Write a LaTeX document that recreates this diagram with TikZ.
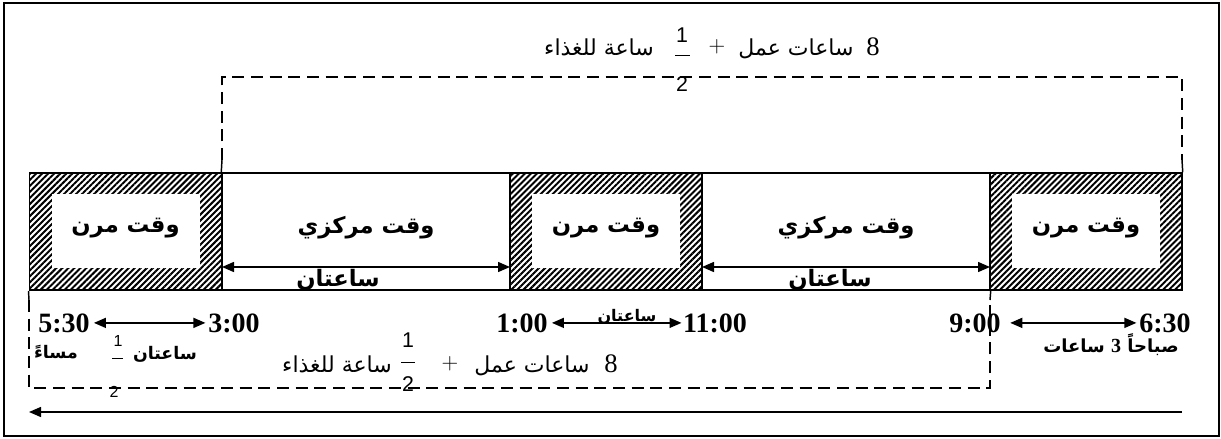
\documentclass[tikz,border=0pt]{standalone}
\usepackage{fontspec}
\usetikzlibrary{arrows.meta,patterns.meta}
\TeXXeTstate=1
\newfontfamily\arb[Script=Arabic]{DejaVu Sans}
\newfontfamily\tms{Liberation Serif}
\newfontfamily\ars{Liberation Sans}
\begin{document}
\begin{tikzpicture}[x=0.75pt,y=-0.75pt,
  frame/.style={line width=1.5pt},
  flexbox/.style={draw,line width=1.1pt,minimum width=144pt,minimum height=87.75pt,inner sep=0pt,
    pattern={Lines[angle=45,distance=3.2pt,line width=1.5pt]}},
  corebox/.style={draw,line width=1.1pt,minimum width=216pt,minimum height=87.75pt,inner sep=0pt},
  innerbox/.style={fill=white,minimum width=111pt,minimum height=55.5pt,inner sep=0pt},
  lbl/.style={font=\arb\bfseries\fontsize{17}{20}\selectfont,inner sep=0pt},
  slbl/.style={font=\arb\bfseries\fontsize{13}{15}\selectfont,inner sep=0pt},
  rlbl/.style={font=\arb\fontsize{16.5}{19}\selectfont,inner sep=0pt,anchor=base},
  tlbl/.style={font=\tms\bfseries\fontsize{21}{24}\selectfont,inner sep=0pt,anchor=base},
  frc/.style={font=\ars\fontsize{16}{18}\selectfont,inner sep=0pt},
  sfrc/.style={font=\ars\fontsize{12}{14}\selectfont,inner sep=0pt},
  dsh/.style={dash pattern=on 9pt off 5pt,line width=1.2pt},
  arr/.style={line width=1.1pt,-{Triangle[length=9pt,width=7.5pt]}},
  darr/.style={line width=1.1pt,{Triangle[length=9pt,width=7.5pt]}-{Triangle[length=9pt,width=7.5pt]}}
]
\useasboundingbox (0,0) rectangle (1221,439);
\draw[frame] (4,3) rectangle (1219,436);

% boxes
\node[flexbox] (f1) at (125.5,231.5) {};
\node[corebox] (c1) at (366,231.5) {};
\node[flexbox] (f2) at (606,231.5) {};
\node[corebox] (c2) at (846,231.5) {};
\node[flexbox] (f3) at (1086,231.5) {};
\node[innerbox] (i1) at (125.5,231) {};
\node[innerbox] (i2) at (606,231) {};
\node[innerbox] (i3) at (1086,231) {};
\node[lbl] (l1) at (125.5,228) {\beginR وقت مرن\endR};
\node[lbl] (l2) at (606,228) {\beginR وقت مرن\endR};
\node[lbl] (l3) at (1086,228) {\beginR وقت مرن\endR};
\node[lbl] (k1) at (366,228) {\beginR وقت مركزي\endR};
\node[lbl] (k2) at (846,228) {\beginR وقت مركزي\endR};

% core arrows
\coordinate (c1a) at (222,267);
\coordinate (c1b) at (510,267);
\coordinate (c2a) at (702,267);
\coordinate (c2b) at (990,267);
\draw[darr] (c1a) -- (c1b);
\draw[darr] (c2a) -- (c2b);
\node[lbl] (s1) at (338,280) {\beginR ساعتان\endR};
\node[lbl] (s2) at (830,280) {\beginR ساعتان\endR};

% top bracket
\coordinate (ta) at (222,160);
\coordinate (tb) at (222,77);
\coordinate (tc) at (1182,77);
\coordinate (td) at (1182,160);
\draw[line width=1.1pt] (c1.north west) -- (ta);
\draw[line width=1.1pt] (f3.north east) -- (td);
\draw[dsh] (ta) -- (tb) -- (tc) -- (td);

% top label
\node[rlbl] (tl1) at (599,55) {\beginR ساعة للغذاء\endR};
\node[frc] (tn) at (682,35) {1};
\node[frc] (tdn) at (682,84) {2};
\coordinate (tf1) at (675,55);
\coordinate (tf2) at (690,55);
\draw[line width=0.7pt] (tf1) -- (tf2);
\node[inner sep=0pt,font=\fontsize{16}{18}\selectfont] (tp) at (717,47) {$+$};
\node[rlbl] (tl2) at (796,55) {\beginR ساعات عمل\endR};
\node[inner sep=0pt,anchor=base,font=\tms\fontsize{20}{22}\selectfont] (t8) at (873,55) {8};

% bottom bracket
\coordinate (ba) at (29,300);
\coordinate (bb) at (29,388);
\coordinate (bc) at (990,388);
\coordinate (bd) at (990,300);
\draw[line width=1.1pt] (f1.south west) -- (ba);
\draw[line width=1.1pt] (c2.south east) -- (bd);
\draw[dsh] (ba) -- (bb) -- (bc) -- (bd);

% times
\node[tlbl] (h530) at (64,332) {5:30};
\node[tlbl] (h300) at (234,332) {3:00};
\node[tlbl] (h100) at (522,332) {1:00};
\node[tlbl] (h1100) at (715,332) {11:00};
\node[tlbl] (h900) at (975,332) {9:00};
\node[tlbl] (h630) at (1165,332) {6:30};
\draw[darr] ([xshift=3pt]h530.east) -- ([xshift=-2pt]h300.west);
\draw[darr] ([xshift=3pt]h100.east) -- ([xshift=-1pt]h1100.west);
\draw[darr] ([xshift=7pt]h900.east) -- ([xshift=-2pt]h630.west);
\node[font=\arb\bfseries\fontsize{12}{14}\selectfont,inner sep=0pt] (s3) at (627,317) {\beginR ساعتان\endR};

% bottom texts
\node[slbl] (msa) at (56,352) {\beginR مساءً\endR};
\node[sfrc] (bn1) at (118,341) {1};
\node[sfrc] (bd1) at (114,392) {2};
\coordinate (bf1) at (112,358);
\coordinate (bf2) at (123,358);
\draw[line width=0.6pt] (bf1) -- (bf2);
\node[slbl] (s4) at (165,354) {\beginR ساعتان\endR};
\node[font=\arb\bfseries\fontsize{13.5}{16}\selectfont,inner sep=0pt] (sbh) at (1111,345) {\beginR صباحاً {\tms\bfseries\fontsize{15}{17}\selectfont 3} ساعات\endR};

\node[rlbl] (bl1) at (337,372) {\beginR ساعة للغذاء\endR};
\node[frc] (bn) at (408,340) {1};
\node[frc] (bdn) at (408,384) {2};
\coordinate (bg1) at (401,362);
\coordinate (bg2) at (415,362);
\draw[line width=0.7pt] (bg1) -- (bg2);
\node[inner sep=0pt,font=\fontsize{16}{18}\selectfont] (bp) at (450,364) {$+$};
\node[rlbl] (bl2) at (532,372) {\beginR ساعات عمل\endR};
\node[inner sep=0pt,anchor=base,font=\tms\fontsize{20}{22}\selectfont] (b8) at (611,372) {8};

% long arrow
\coordinate (arrR) at (1182,412);
\coordinate (arrL) at (29,412);
\draw[arr] (arrR) -- (arrL);
\end{tikzpicture}
\end{document}
